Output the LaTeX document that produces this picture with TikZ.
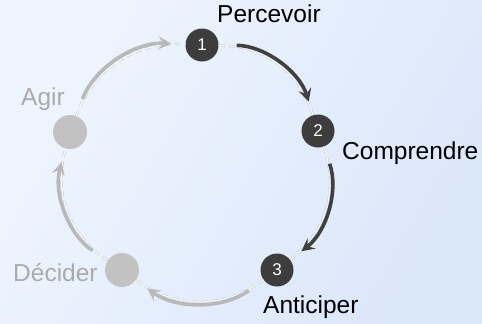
\documentclass[tikz,border=0pt]{standalone}
\usepackage{fontspec}
\setmainfont{Liberation Sans}
\usepackage{tikz}
\usetikzlibrary{arrows.meta}

\definecolor{bgtl}{HTML}{EFF5FE}
\definecolor{bgbr}{HTML}{DBE7FA}
\definecolor{stagedark}{HTML}{3D3D3D}
\definecolor{stagelight}{HTML}{C2C2C2}
\definecolor{arcdark}{HTML}{404040}
\definecolor{arclight}{HTML}{B9B9B9}
\definecolor{txtlight}{HTML}{ABABAB}

\tikzset{
  stagedone/.style={circle, fill=stagedark, text=white, minimum size=33pt, inner sep=0pt,
    font=\fontsize{17}{17}\selectfont},
  stagetodo/.style={circle, fill=stagelight, minimum size=34pt, inner sep=0pt},
  lbl/.style={anchor=base west, inner sep=0pt, font=\fontsize{24.5}{28}\selectfont},
  trailedge/.style={gray!45, line width=2.4pt, dash pattern=on 6pt off 4pt},
  trail/.style={white, line width=1.2pt, dash pattern=on 6pt off 4pt},
  cycarc/.style={line width=3.6pt, shorten <=18pt, shorten >=14pt,
    -{Stealth[length=13pt, width=13pt, inset=5pt]}},
}

\begin{document}
\begin{tikzpicture}[x=1pt, y=-1pt]
        \shade[left color=bgtl, right color=bgbr, shading angle=60]
          (0,0) rectangle (482,324);
        \useasboundingbox (0,0) rectangle (482,324);
        % stages of the cycle
        \node[stagedone] (p1) at (202,45) {1};
        \node[stagedone] (p2) at (318,131) {2};
        \node[stagedone] (p3) at (277,270) {3};
        \node[stagetodo] (dec) at (122,270) {};
        \node[stagetodo] (agir) at (70,132) {};
        % names
        \node[lbl] (lp1) at (217,22) {Percevoir};
        \node[lbl] (lp2) at (342,159) {Comprendre};
        \node[lbl] (lp3) at (263,313) {Anticiper};
        \node[lbl, text=txtlight] (ldec) at (13,281) {Décider};
        \node[lbl, text=txtlight] (lagir) at (21,105) {Agir};
        % dashed ring
        \foreach \a/\b in {p1/p2, p2/p3, p3/dec, dec/agir, agir/p1} {
          \draw[trailedge] (\a) to[bend left=36] (\b);
          \draw[trail] (\a) to[bend left=36] (\b);
        }
        % arrows
        \draw[cycarc, arcdark] (p1) to[bend left=36] (p2);
        \draw[cycarc, arcdark] (p2) to[bend left=36] (p3);
        \draw[cycarc, arclight] (p3) to[bend left=36] (dec);
        \draw[cycarc, arclight] (dec) to[bend left=36] (agir);
        \draw[cycarc, arclight] (agir) to[bend left=36] (p1);
\end{tikzpicture}
\end{document}
